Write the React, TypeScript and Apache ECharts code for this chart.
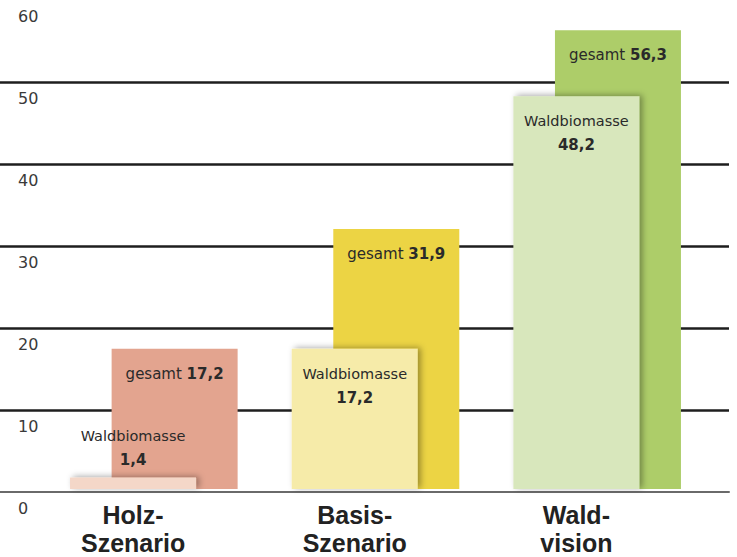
import React, { useEffect, useRef } from "react";
import * as echarts from "echarts";

const categories = ["Holz-\nSzenario", "Basis-\nSzenario", "Wald-\nvision"];
const gesamtValues = [17.2, 31.9, 56.3];
const waldValues = [1.4, 17.2, 48.2];
const gesamtColors = ["#e3a48f", "#ecd444", "#adcd69"];
const waldColors = ["#f4d7c8", "#f6eba9", "#d8e7bc"];
const yMin = 0;
const yMax = 60;
const yInterval = 10;

const fmt = (v: number) => String(v).replace(".", ",");

export default function App() {
  const ref = useRef<HTMLDivElement>(null);
  useEffect(() => {
    if (!ref.current) return;
    const chart = echarts.init(ref.current, null, { renderer: "svg" });
    const textColor = "#2a2a2a";
    const lineColor = "#1e1e1e";
    const option: any = {
      animation: false,
      backgroundColor: "#ffffff",
      grid: [
        { left: 0, right: 8, top: -2, bottom: 65 },
        { left: 43, right: 29, top: -2, bottom: 65 },
      ],
      xAxis: [
        {
          gridIndex: 0,
          type: "value",
          min: 0,
          max: 1,
          axisLine: { show: true, onZero: false, lineStyle: { color: "#6a6a6a", width: 2 } },
          axisTick: { show: false },
          axisLabel: { show: false },
          splitLine: { show: false },
        },
        {
          gridIndex: 1,
          type: "category",
          data: categories,
          axisLine: { show: false },
          axisTick: { show: false },
          splitLine: { show: false },
          axisLabel: {
            interval: 0,
            fontFamily: "Liberation Sans",
            fontWeight: "bold",
            fontSize: 25,
            lineHeight: 28,
            color: "#222222",
            margin: 12,
            padding: [0, 41.5, 0, 0],
          },
        },
      ],
      yAxis: [
        {
          gridIndex: 0,
          type: "value",
          min: yMin,
          max: yMax,
          interval: yInterval,
          axisLine: { show: false },
          axisTick: { show: false },
          axisLabel: {
            inside: true,
            margin: 18,
            showMinLabel: true,
            showMaxLabel: true,
            verticalAlign: "top",
            padding: [8, 0, 0, 0],
            fontFamily: "DejaVu Sans",
            fontSize: 16,
            lineHeight: 16,
            color: "#3a3a3a",
          },
          splitLine: {
            show: true,
            lineStyle: {
              color: ["rgba(0,0,0,0)", lineColor, lineColor, lineColor, lineColor, lineColor, "rgba(0,0,0,0)"],
              width: 2.5,
            },
          },
        },
        {
          gridIndex: 1,
          type: "value",
          min: yMin,
          max: yMax,
          interval: yInterval,
          show: false,
          splitLine: { show: false },
        },
      ],
      series: [
        {
          name: "Waldbiomasse",
          type: "bar",
          xAxisIndex: 1,
          yAxisIndex: 1,
          barWidth: 126,
          barGap: "-67%",
          z: 3,
          itemStyle: {
            shadowBlur: 6,
            shadowOffsetX: 3,
            shadowOffsetY: -1,
            shadowColor: "rgba(0,0,0,0.35)",
          },
          label: {
            show: true,
            position: "insideTop",
            distance: 13,
            formatter: (p: any) => "{n|Waldbiomasse}\n{b|" + fmt(p.value) + "}",
            rich: {
              n: { fontFamily: "DejaVu Sans", fontSize: 14.5, lineHeight: 24, color: textColor },
              b: { fontFamily: "DejaVu Sans", fontWeight: "bold", fontSize: 15, lineHeight: 24, color: textColor },
            },
          },
          data: waldValues.map((v, i) => {
            const item: any = { value: v, itemStyle: { color: waldColors[i] } };
            if (v < 5) item.label = { position: "top", distance: 6 };
            return item;
          }),
        },
        {
          name: "gesamt",
          type: "bar",
          xAxisIndex: 1,
          yAxisIndex: 1,
          barWidth: 126,
          barGap: "-67%",
          z: 2,
          label: {
            show: true,
            position: "insideTop",
            distance: 15,
            formatter: (p: any) => "{n|gesamt }{b|" + fmt(p.value) + "}",
            rich: {
              n: { fontFamily: "DejaVu Sans", fontSize: 15, lineHeight: 20, color: textColor },
              b: { fontFamily: "DejaVu Sans", fontWeight: "bold", fontSize: 15, lineHeight: 20, color: textColor },
            },
          },
          data: gesamtValues.map((v, i) => ({ value: v, itemStyle: { color: gesamtColors[i] } })),
        },
      ],
    };
    chart.setOption(option);
    return () => chart.dispose();
  }, []);
  return (
    <div
      ref={ref}
      style={{ position: "absolute", left: 0, top: 0, width: 737, height: 557 }}
    />
  );
}
